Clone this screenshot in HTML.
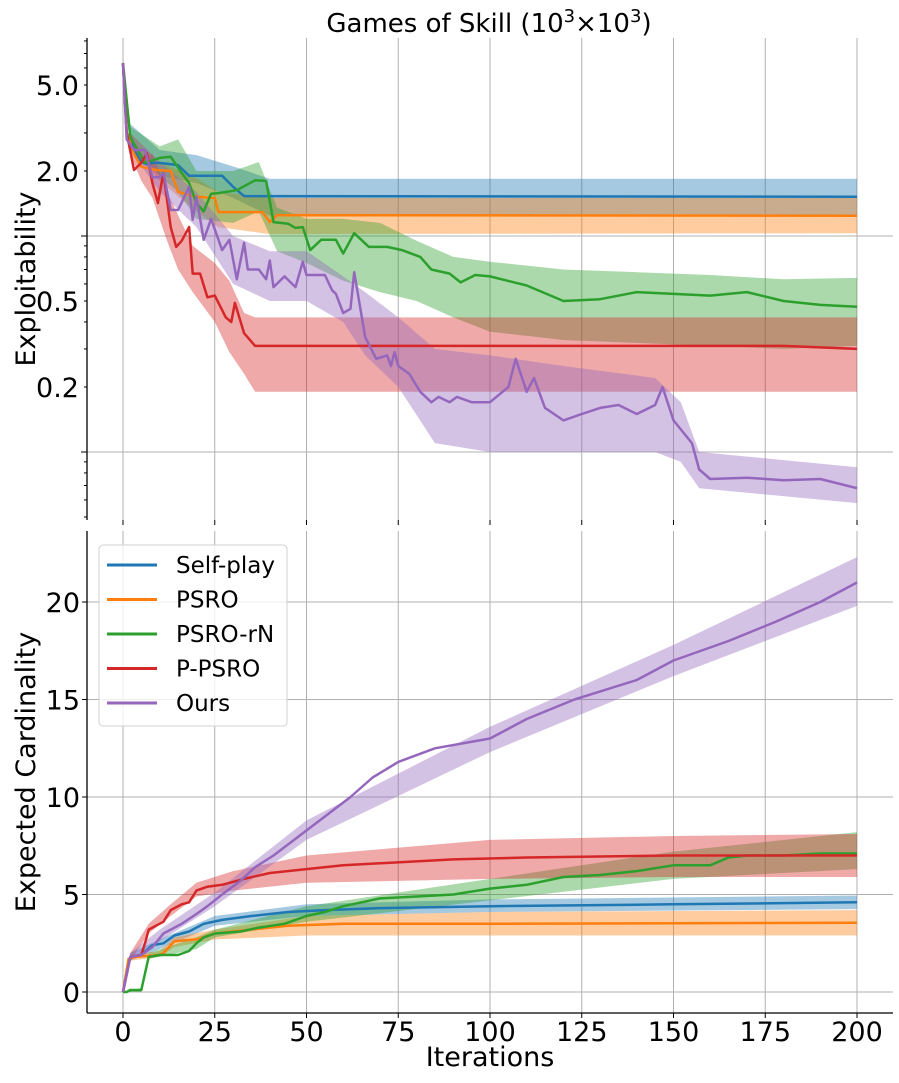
<!DOCTYPE html>
<html><head><meta charset="utf-8"><style>
body{margin:0;background:#fff;}
svg text{font-family:"DejaVu Sans","Liberation Sans",sans-serif;fill:#000;}
</style></head><body>
<svg id="chart" width="899" height="1078" xmlns="http://www.w3.org/2000/svg"></svg>
<script>
// ---------- data ----------
const seriesNames = ["Self-play","PSRO","PSRO-rN","P-PSRO","Ours"];
const colors = ["#1f77b4","#ff7f0e","#2ca02c","#d62728","#9467bd"];
const xTicks = [0,25,50,75,100,125,150,175,200];
const topTickVals = [5.0,2.0,0.5,0.2];
const topTickLabels = ["5.0","2.0","0.5","0.2"];
const botTickVals = [0,5,10,15,20];

// top panel: exploitability
const t0x = [0,1,3,5,6.5,8,10,15,18,27,30,33,200];
const t0y = [6.3,3.0,2.5,2.2,2.15,2.18,2.18,2.13,1.9,1.9,1.69,1.53,1.52];
const t1x = [0,1,3,5,9,13,15,20,25,26,38,40,42,200];
const t1y = [6.3,3.0,2.4,2.09,2.02,2.0,1.6,1.52,1.5,1.29,1.29,1.16,1.25,1.24];
const t2x = [0,2,6,10,13,16,18,20,22,24,26,31,36,39,41,45,47,49,51,54,58,60,63,67,72,76,81,84,89,92,96,100,110,120,130,140,160,170,180,190,200];
const t2y = [6.3,2.87,2.18,2.3,2.33,1.96,1.76,1.42,1.3,1.57,1.58,1.63,1.81,1.8,1.16,1.14,1.09,1.1,0.86,0.96,0.96,0.83,1.03,0.89,0.89,0.86,0.80,0.70,0.67,0.61,0.66,0.65,0.59,0.50,0.51,0.55,0.53,0.55,0.50,0.48,0.47];
const t3x = [0,1,3,5,6.5,8,9.5,11,13,14.5,16,18,19,21,23,25,28,29.5,30.5,33,36,60,90,120,150,180,200];
const t3y = [6.3,3.0,2.02,2.18,2.42,1.76,1.42,1.96,1.1,0.89,0.95,1.1,0.67,0.67,0.52,0.53,0.42,0.40,0.49,0.355,0.31,0.31,0.31,0.31,0.31,0.31,0.30];
const t4x = [0,1,3,6,8,10,11,13,15,18,19,20,22,24,27,29,31,33,34,37,39,40,41,44,47,49,50,55,57,58,60,62,63,66,69,72,73,74,75,78,81,84,86,89,91,95,100,105,107,110,112,115,120,125,130,135,140,145,147,150,155,157,160,170,180,190,200];
const t4y = [6.3,2.8,2.5,2.5,1.87,1.87,1.96,1.32,1.32,1.69,1.19,1.52,0.96,1.2,0.86,0.96,0.63,0.93,0.7,0.7,0.63,0.77,0.58,0.65,0.58,0.76,0.66,0.66,0.56,0.54,0.44,0.46,0.68,0.34,0.27,0.28,0.25,0.29,0.25,0.23,0.19,0.17,0.18,0.17,0.18,0.17,0.17,0.2,0.27,0.19,0.22,0.16,0.14,0.15,0.16,0.165,0.15,0.165,0.2,0.14,0.11,0.083,0.075,0.076,0.074,0.075,0.068];
const tb0x = [0,2,10,20,30,40,200];
const tb0lo = [6.0,2.7,1.9,1.76,1.5,1.24,1.24];
const tb0hi = [6.5,3.3,2.5,2.37,2.1,1.84,1.84];
const tb1x = [0,2,10,20,26,40,200];
const tb1lo = [6.0,2.6,1.8,1.3,1.1,1.02,1.03];
const tb1hi = [6.5,3.0,2.2,1.85,1.6,1.5,1.5];
const tb2x = [0,2,10,15,20,30,37,42,50,60,70,80,90,100,120,140,160,180,200];
const tb2lo = [6.0,2.6,1.9,1.6,1.2,1.15,1.3,0.85,0.75,0.62,0.55,0.5,0.42,0.36,0.33,0.32,0.31,0.30,0.31];
const tb2hi = [6.6,3.2,2.6,2.8,2.0,2.0,2.2,1.35,1.2,1.2,1.15,0.95,0.8,0.76,0.7,0.68,0.66,0.63,0.64];
const tb3x = [0,2,5,8,12,15,19,25,29,33,36,200];
const tb3lo = [6.0,2.4,1.8,1.5,0.95,0.7,0.55,0.4,0.29,0.23,0.19,0.19];
const tb3hi = [6.5,3.0,2.3,2.4,1.6,1.25,0.9,0.75,0.62,0.44,0.42,0.42];
const tb4x = [0,2,10,20,30,40,50,60,66,75,85,100,120,145,152,157,200];
const tb4lo = [6.0,2.5,1.6,1.1,0.6,0.5,0.5,0.4,0.28,0.2,0.11,0.1,0.1,0.1,0.09,0.068,0.058];
const tb4hi = [6.5,3.0,2.2,1.6,1.0,0.85,0.85,0.65,0.55,0.42,0.3,0.28,0.25,0.22,0.17,0.1,0.085];

// bottom panel: expected cardinality
const b0x = [0,2,5,8,11,14,18,22,27,35,45,55,70,100,150,200];
const b0y = [0,1.8,1.9,2.4,2.5,2.9,3.1,3.5,3.7,3.9,4.1,4.2,4.3,4.4,4.5,4.6];
const b1x = [0,1.5,3,10,11,14,20,25,30,40,45,60,100,200];
const b1y = [0,1.7,1.8,1.9,2.0,2.6,2.7,3.0,3.1,3.3,3.4,3.5,3.5,3.55];
const b2x = [0,1,2,5,7,10,15,18,20,22,25,32,37,44,50,55,60,65,70,80,90,100,110,120,130,140,150,160,165,170,180,190,200];
const b2y = [0,0,0.1,0.1,1.8,1.9,1.9,2.1,2.5,2.8,3.0,3.1,3.3,3.5,3.9,4.1,4.4,4.6,4.8,4.9,5.0,5.3,5.5,5.9,6.0,6.2,6.5,6.5,6.9,7.0,7.0,7.1,7.1];
const b3x = [0,2,5,6,7,9,11,13,16,18,20,23,27,33,40,50,60,70,90,110,150,200];
const b3y = [0,1.8,1.9,2.5,3.2,3.4,3.6,4.2,4.5,4.6,5.2,5.4,5.5,5.8,6.1,6.3,6.5,6.6,6.8,6.9,7.0,7.0];
const b4x = [0,2,5,8,11,16,20,23,27,32,36,41,48,55,62,68,75,85,100,110,123,140,150,165,178,190,200];
const b4y = [0,1.8,1.9,2.3,3.0,3.5,4.0,4.4,5.0,5.7,6.4,7.0,8.0,9.0,10.0,11.0,11.8,12.5,13.0,14.0,15.0,16.0,17.0,18.0,19.0,20.0,21.0];
const bb0x = [0,2,10,25,50,100,200];
const bb0lo = [0,1.6,2.2,3.4,3.9,4.1,4.25];
const bb0hi = [0,2.0,2.7,3.9,4.5,4.75,4.95];
const bb1x = [0,2,10,14,25,50,100,200];
const bb1lo = [0,1.6,1.8,2.3,2.7,2.9,2.9,2.9];
const bb1hi = [0,1.9,2.1,2.8,3.2,3.9,4.1,4.2];
const bb2x = [0,5,7,20,25,50,100,150,200];
const bb2lo = [0,0,1.7,2.2,2.8,3.6,4.7,5.8,6.3];
const bb2hi = [0,0.2,2.0,2.8,3.2,4.4,5.8,7.2,8.2];
const bb3x = [0,2,7,13,20,30,50,100,150,200];
const bb3lo = [0,1.6,3.0,3.9,4.9,5.2,5.6,5.8,5.9,5.9];
const bb3hi = [0,2.0,3.5,4.5,5.6,6.2,7.0,7.8,8.0,8.1];
const bb4x = [0,2,10,25,50,100,150,200];
const bb4lo = [0,1.6,2.6,4.4,7.8,12.3,16.2,19.8];
const bb4hi = [0,2.0,3.2,5.1,8.8,13.6,17.8,22.3];

// ---------- geometry ----------
const L=87, R=893, T1=38, B1=520, T2=531, B2=1013;
const sx = v => 123 + v*(857-123)/200;
const syTop = v => 236 - Math.log10(v)*216;
const syBot = v => 992 - v*19.5;
const NS="http://www.w3.org/2000/svg";
const svg=document.getElementById('chart');
function mk(tag,attrs,parent){const e=document.createElementNS(NS,tag);for(const k in attrs)e.setAttribute(k,attrs[k]);(parent||svg).appendChild(e);return e;}
function pts(xs,ys,fy){return xs.map((x,i)=>sx(x).toFixed(1)+','+fy(ys[i]).toFixed(1));}
function band(xs,lo,hi,fy,c,nm){const p=pts(xs,hi,fy).concat(pts(xs,lo,fy).reverse());const e=mk('polygon',{points:p.join(' '),fill:c,'fill-opacity':0.4,stroke:'none'});

}
function line(xs,ys,fy,c,nm){const e=mk('polyline',{points:pts(xs,ys,fy).join(' '),fill:'none',stroke:c,'stroke-width':2.5,'stroke-linejoin':'round'});

}
function txt(s,x,y,size,anchor,nm,extra){const e=mk('text',Object.assign({x:x,y:y,'font-size':size,'text-anchor':anchor},extra||{}));e.textContent=s;

return e;}

// grids
for(const v of xTicks){
  const g1=mk('line',{x1:sx(v),x2:sx(v),y1:T1,y2:B1,stroke:'#b0b0b0','stroke-width':1});
  
  
  const g2=mk('line',{x1:sx(v),x2:sx(v),y1:T2,y2:B2,stroke:'#b0b0b0','stroke-width':1});
  
  
  mk('line',{x1:sx(v),x2:sx(v),y1:B1,y2:B1+5,stroke:'#000','stroke-width':1});
  mk('line',{x1:sx(v),x2:sx(v),y1:B2,y2:B2+5,stroke:'#000','stroke-width':1});
  txt(String(v),sx(v),1041,27,'middle','x-tick-label');
}
for(const v of [1,0.1]){
  const g=mk('line',{x1:L,x2:R,y1:syTop(v),y2:syTop(v),stroke:'#b0b0b0','stroke-width':1});
  
  
  mk('line',{x1:L-6,x2:L,y1:syTop(v),y2:syTop(v),stroke:'#000','stroke-width':1});
}
for(const d of [0.01,0.1,1]){for(let k=2;k<=9;k++){const v=d*k;const y=syTop(v);if(y<T1||y>B1)continue;mk('line',{x1:L-3,x2:L,y1:y,y2:y,stroke:'#000','stroke-width':1});}}
topTickVals.forEach((v,i)=>txt(topTickLabels[i],79,syTop(v)+10,27,'end','top-y-tick-label'));
for(const v of botTickVals){
  const g=mk('line',{x1:L,x2:R,y1:syBot(v),y2:syBot(v),stroke:'#b0b0b0','stroke-width':1});
  
  
  mk('line',{x1:L-5,x2:L,y1:syBot(v),y2:syBot(v),stroke:'#000','stroke-width':1});
  txt(String(v),80,syBot(v)+10,27,'end','bottom-y-tick-label');
}

// series
const topS=[[t0x,t0y,tb0x,tb0lo,tb0hi],[t1x,t1y,tb1x,tb1lo,tb1hi],[t2x,t2y,tb2x,tb2lo,tb2hi],[t3x,t3y,tb3x,tb3lo,tb3hi],[t4x,t4y,tb4x,tb4lo,tb4hi]];
const botS=[[b0x,b0y,bb0x,bb0lo,bb0hi],[b1x,b1y,bb1x,bb1lo,bb1hi],[b2x,b2y,bb2x,bb2lo,bb2hi],[b3x,b3y,bb3x,bb3lo,bb3hi],[b4x,b4y,bb4x,bb4lo,bb4hi]];
topS.forEach((s,i)=>band(s[2],s[3],s[4],syTop,colors[i],'top-band-'+i));
topS.forEach((s,i)=>line(s[0],s[1],syTop,colors[i],'top-line-'+i));
botS.forEach((s,i)=>band(s[2],s[3],s[4],syBot,colors[i],'bottom-band-'+i));
botS.forEach((s,i)=>line(s[0],s[1],syBot,colors[i],'bottom-line-'+i));

// spines
mk('line',{x1:L,x2:L,y1:T1,y2:B1,stroke:'#000','stroke-width':1.3});
mk('line',{x1:L,x2:L,y1:T2,y2:B2,stroke:'#000','stroke-width':1.3});
mk('line',{x1:L,x2:R,y1:B2,y2:B2,stroke:'#000','stroke-width':1.3});

// titles
const tt=txt('',489,32,26,'middle','chart-title');
tt.innerHTML='Games of Skill (10<tspan dy="-10" font-size="18">3</tspan><tspan dy="10">×10</tspan><tspan dy="-10" font-size="18">3</tspan><tspan dy="10">)</tspan>';
txt('Exploitability',0,0,27,'middle','top-y-axis-title',{transform:'translate(35,279) rotate(-90)'});
txt('Expected Cardinality',0,0,27,'middle','bottom-y-axis-title',{transform:'translate(35,772) rotate(-90)'});
txt('Iterations',490,1066,27,'middle','x-axis-title');

// legend
const lg=mk('g',{});


mk('rect',{x:99,y:545,width:188,height:181,rx:4,fill:'#fff','fill-opacity':0.8,stroke:'#d0d0d0'},lg);
seriesNames.forEach((n,i)=>{
  const y=565+i*34.5;
  mk('line',{x1:107,x2:157,y1:y,y2:y,stroke:colors[i],'stroke-width':3},lg);
  const t=txt(n,176,y+8,23,'start','legend-entry');
  lg.appendChild(t);
});
</script>
</body></html>
